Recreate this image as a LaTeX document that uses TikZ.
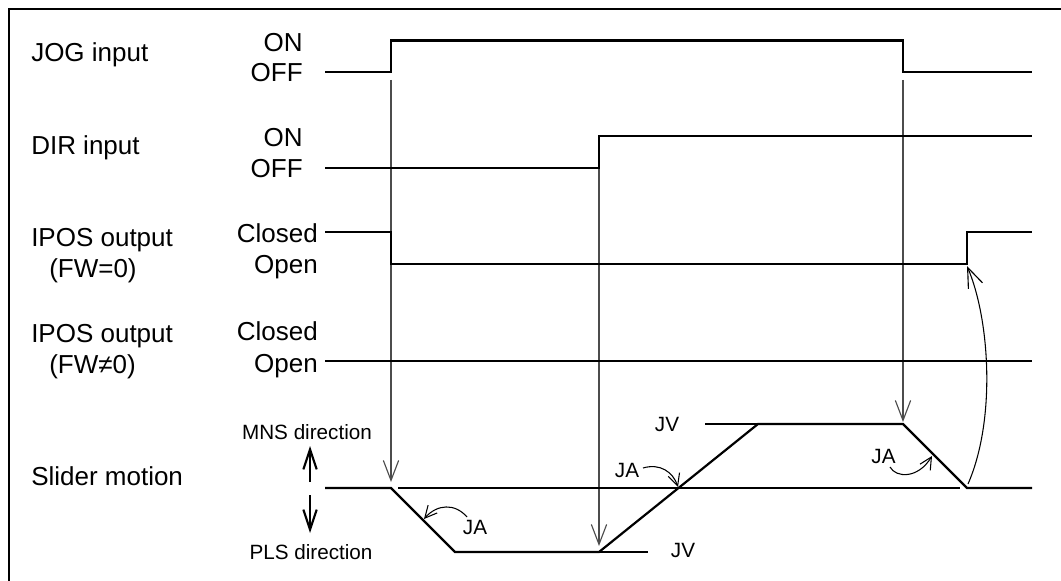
\documentclass[tikz,border=0pt]{standalone}
\usepackage{fontspec}
\setmainfont{Liberation Sans}
\usetikzlibrary{arrows.meta}
\begin{document}
\begin{tikzpicture}[x=0.75pt,y=-0.75pt,
  sig/.style={line width=1.65pt, line join=miter},
  guide/.style={line width=0.95pt, draw=black!70},
  thinline/.style={line width=0.8pt},
  vhead/.style={-{Straight Barb[length=15pt,width=11.5pt,line width=0.85pt]}},
  jahead/.style={-{Straight Barb[length=9pt,width=9pt,line width=0.8pt]}},
  dirarrow/.style={line width=1.6pt,-{Straight Barb[length=15pt,width=10pt,line width=1.6pt]}},
  big/.style={font=\fontsize{19.5}{22}\selectfont, inner sep=0pt},
  small/.style={font=\fontsize{15.5}{18}\selectfont, inner sep=0pt},
]
\useasboundingbox (0,0) rectangle (1061,581);
\clip (0,0) rectangle (1061,581);
% frame
\draw[line width=1.5pt] (9,610) -- (9,9) -- (1090,9);

% left labels
\node[big, anchor=base west] (jog) at (31,62) {JOG input};
\node[big, anchor=base west] (dir) at (31,155) {DIR input};
\node[big, anchor=base west] (ipa) at (31,247) {IPOS output};
\node[big, anchor=base west] (fwa) at (49,277) {(FW=0)};
\node[big, anchor=base west] (ipb) at (31,342) {IPOS output};
\node[big, anchor=base west] (fwb) at (49,373) {(FW≠0)};
\node[big, anchor=base west] (slider) at (31,485) {Slider motion};

% level labels
\node[big, anchor=base east] (jogon) at (303,51.5) {ON};
\node[big, anchor=base east] (jogoff) at (303,82) {OFF};
\node[big, anchor=base east] (diron) at (303,146.5) {ON};
\node[big, anchor=base east] (diroff) at (303,178) {OFF};
\node[big, anchor=base east] (cla) at (318,243) {Closed};
\node[big, anchor=base east] (opa) at (318,274) {Open};
\node[big, anchor=base east] (clb) at (318,340) {Closed};
\node[big, anchor=base east] (opb) at (318,372) {Open};

\node[small] (mns) at (307,432) {MNS direction};
\node[small] (pls) at (311,552) {PLS direction};
\coordinate (upA) at (310,482);
\coordinate (upB) at (310,446);
\coordinate (dnA) at (310,495);
\coordinate (dnB) at (310,533);
\draw[dirarrow] (upA) -- (upB);
\draw[dirarrow] (dnA) -- (dnB);

% guide arrows (behind the signals)
\draw[guide, vhead] (391,80) -- (391,482);
\draw[guide, vhead] (599,168) -- (599,546);
\draw[guide, vhead] (903,80) -- (903,422);

% JOG
\draw[sig] (325,72) -- (391,72) -- (391,40.5) -- (903,40.5) -- (903,72) -- (1032,72);
% DIR
\draw[sig] (325,168) -- (599,168) -- (599,136) -- (1032,136);
% IPOS FW=0
\draw[sig] (325,232) -- (391,232) -- (391,264) -- (967,264) -- (967,232) -- (1032,232);
% IPOS FW!=0
\draw[sig] (325,361) -- (1032,361);

% slider motion
\coordinate (s0) at (325,488);
\coordinate (s1) at (391,488);
\coordinate (s2) at (455,552);
\coordinate (s3) at (599,552);
\coordinate (s4) at (758,424);
\coordinate (s5) at (903,424);
\coordinate (s6) at (967,488);
\coordinate (s7) at (1032,488);
\draw[thinline] (398,488) -- (960,488);
\draw[thinline] (s3) -- (648,552);
\draw[thinline] (705,424) -- (s4);
\draw[sig] (s0) -- (s1) -- (s2) -- (s3) -- (s4) -- (s5) -- (s6) -- (s7);

\node[small] (jv1) at (683,550) {JV};
\node[small] (jv2) at (667,424) {JV};
\node[small] (ja1) at (475,527) {JA};
\node[small] (ja2) at (627,470.5) {JA};
\node[small] (ja3) at (883.5,456) {JA};

% JA arrows
\draw[thinline, jahead] (467,517) .. controls (455,503) and (437,504) .. (424,519);
\draw[thinline, jahead] (643,468) .. controls (660,463) and (673,472) .. (678,487);
\draw[thinline, jahead] (890,467) .. controls (896,478) and (918,479) .. (932,456);

% return arrow to IPOS
\draw[thinline, vhead] (968,484) .. controls (996,420) and (990,320) .. (967,266);
\end{tikzpicture}
\end{document}
